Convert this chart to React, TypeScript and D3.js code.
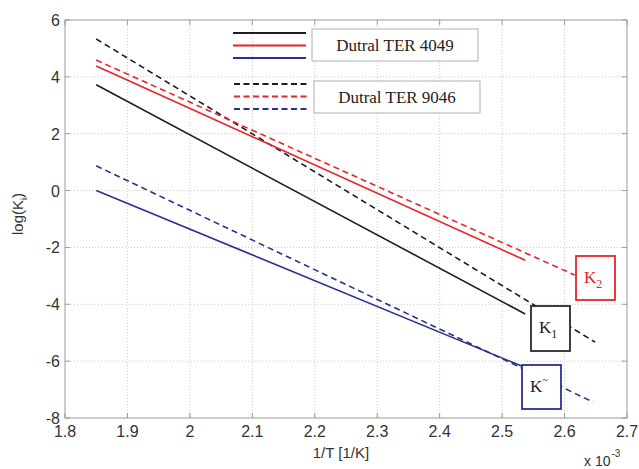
import React, { useRef, useEffect } from 'react';
import * as d3 from 'd3';

// line endpoints [1/T (x1e-3), log(K)]
const k1Ter4049 = [[1.85, 3.72], [2.537, -4.34]];
const k2Ter4049 = [[1.85, 4.38], [2.537, -2.45]];
const kmTer4049 = [[1.85, 0.0], [2.531, -6.17]];
const k1Ter9046 = [[1.85, 5.33], [2.649, -5.33]];
const k2Ter9046 = [[1.85, 4.59], [2.616, -2.97]];
const kmTer9046 = [[1.85, 0.87], [2.646, -7.44]];

const xTicks = [1.8, 1.9, 2, 2.1, 2.2, 2.3, 2.4, 2.5, 2.6, 2.7];
const yTicks = [-8, -6, -4, -2, 0, 2, 4, 6];
const legendLabels = ['Dutral TER 4049', 'Dutral TER 9046'];

const BLACK = '#1e1e1e';
const RED = '#e8232b';
const BLUE = '#2a3090';

const width = 639;
const height = 469;
const margin = { top: 20, right: 12, bottom: 51, left: 65 };

function Chart() {
  const ref = useRef<SVGSVGElement>(null);

  useEffect(() => {
    document.body.style.margin = '0';
    document.body.style.overflow = 'hidden';

    const svg = d3.select(ref.current);
    svg.selectAll('*').remove();

    const x = d3.scaleLinear()
      .domain([1.8, 2.7])
      .range([margin.left, width - margin.right]);
    const y = d3.scaleLinear()
      .domain([-8, 6])
      .range([height - margin.bottom, margin.top]);

    const x0 = x.range()[0], x1 = x.range()[1];
    const y0 = y.range()[0], y1 = y.range()[1];

    // grid
    const grid = svg.append('g');
    grid.selectAll('line.gx')
      .data(xTicks.slice(1, -1))
      .join('line')
        .attr('x1', d => x(d)).attr('x2', d => x(d))
        .attr('y1', y1).attr('y2', y0)
        .attr('stroke', '#c8c8c8')
        .attr('stroke-dasharray', '1,2');
    grid.selectAll('line.gy')
      .data(yTicks.slice(1, -1))
      .join('line')
        .attr('x1', x0).attr('x2', x1)
        .attr('y1', d => y(d)).attr('y2', d => y(d))
        .attr('stroke', '#c8c8c8')
        .attr('stroke-dasharray', '1,2');

    // frame + inward ticks
    svg.append('rect')
      .attr('x', x0).attr('y', y1)
      .attr('width', x1 - x0).attr('height', y0 - y1)
      .attr('fill', 'none').attr('stroke', '#9a9a9a');

    const ticks = svg.append('g').attr('stroke', '#9a9a9a');
    xTicks.forEach(t => {
      ticks.append('line').attr('x1', x(t)).attr('x2', x(t)).attr('y1', y0).attr('y2', y0 - 5);
      ticks.append('line').attr('x1', x(t)).attr('x2', x(t)).attr('y1', y1).attr('y2', y1 + 5);
    });
    yTicks.forEach(t => {
      ticks.append('line').attr('x1', x0).attr('x2', x0 + 5).attr('y1', y(t)).attr('y2', y(t));
      ticks.append('line').attr('x1', x1).attr('x2', x1 - 5).attr('y1', y(t)).attr('y2', y(t));
    });

    const labels = svg.append('g')
      .attr('font-family', 'Liberation Sans, Arial, sans-serif')
      .attr('font-size', 16)
      .attr('fill', '#333');
    labels.selectAll('text.xt')
      .data(xTicks)
      .join('text')
        .attr('x', d => x(d))
        .attr('y', y0 + 19)
        .attr('text-anchor', 'middle')
        .text(d => d3.format('~g')(d));
    labels.selectAll('text.yt')
      .data(yTicks)
      .join('text')
        .attr('x', x0 - 5)
        .attr('y', d => y(d) + 6)
        .attr('text-anchor', 'end')
        .text(d => d);

    labels.append('text')
      .attr('x', 341)
      .attr('y', 458)
      .attr('text-anchor', 'middle')
      .attr('font-size', 15)
      .text('1/T [1/K]');

    const yl = labels.append('text')
      .attr('transform', `translate(23,214) rotate(-90)`)
      .attr('text-anchor', 'middle')
      .attr('font-size', 15);
    yl.append('tspan').text('log(K');
    yl.append('tspan').attr('font-size', 9).attr('dy', 4).text('i');
    yl.append('tspan').attr('dy', -4).text(')');

    const ex = labels.append('text')
      .attr('x', 584).attr('y', 466)
      .attr('font-size', 14);
    ex.append('tspan').text('x 10');
    ex.append('tspan').attr('font-size', 10).attr('dy', -9).attr('dx', 1).text('-3');

    // lines
    const line = d3.line<number[]>().x(d => x(d[0])).y(d => y(d[1]));
    const series = [
      { pts: k1Ter9046, c: BLACK, dash: '6,4' },
      { pts: k2Ter9046, c: RED, dash: '6,4' },
      { pts: kmTer9046, c: BLUE, dash: '6,4' },
      { pts: k1Ter4049, c: BLACK, dash: null },
      { pts: k2Ter4049, c: RED, dash: null },
      { pts: kmTer4049, c: BLUE, dash: null },
    ];
    svg.append('g')
      .selectAll('path')
      .data(series)
      .join('path')
        .attr('d', d => line(d.pts))
        .attr('fill', 'none')
        .attr('stroke', d => d.c)
        .attr('stroke-width', 1.6)
        .attr('stroke-dasharray', d => d.dash);

    // legend
    const leg = svg.append('g');
    [BLACK, RED, BLUE].forEach((c, i) => {
      leg.append('line')
        .attr('x1', 233).attr('x2', 306)
        .attr('y1', 33 + i * 12.5).attr('y2', 33 + i * 12.5)
        .attr('stroke', c).attr('stroke-width', 1.8);
      leg.append('line')
        .attr('x1', 234).attr('x2', 308)
        .attr('y1', 84 + i * 12.5).attr('y2', 84 + i * 12.5)
        .attr('stroke', c).attr('stroke-width', 1.8)
        .attr('stroke-dasharray', '6,3.5');
    });
    legendLabels.forEach((lab, i) => {
      const bx = 312 + i * 2, by = 29 + i * 52;
      leg.append('rect')
        .attr('x', bx).attr('y', by)
        .attr('width', 166).attr('height', 32)
        .attr('fill', '#fff').attr('stroke', '#b0b0b0');
      leg.append('text')
        .attr('x', bx + 83).attr('y', by + 22)
        .attr('text-anchor', 'middle')
        .attr('font-family', 'Liberation Serif, Times New Roman, serif')
        .attr('font-size', 17)
        .attr('fill', '#222')
        .text(lab);
    });

    // K labels in boxes
    const boxes = [
      { bx: 576, by: 256, w: 39, h: 44, c: RED, tc: RED, sub: '2', sup: null },
      { bx: 531, by: 306, w: 39, h: 45, c: '#2a2a2a', tc: '#222', sub: '1', sup: null },
      { bx: 522, by: 365, w: 39, h: 44, c: BLUE, tc: '#222', sub: null, sup: '~' },
    ];
    boxes.forEach(b => {
      svg.append('rect')
        .attr('x', b.bx).attr('y', b.by)
        .attr('width', b.w).attr('height', b.h)
        .attr('fill', '#fff').attr('stroke', b.c).attr('stroke-width', 1.8);
      const t = svg.append('text')
        .attr('x', b.bx + 8).attr('y', b.by + 27)
        .attr('font-family', 'Liberation Serif, Times New Roman, serif')
        .attr('font-size', 17)
        .attr('fill', b.tc);
      t.append('tspan').text('K');
      if (b.sub) t.append('tspan').attr('font-size', 12).attr('dy', 5).text(b.sub);
      if (b.sup) t.append('tspan').attr('font-size', 11).attr('dy', -9).text(b.sup);
    });
  }, []);

  return <svg ref={ref} width={width} height={height} style={{ display: 'block' }}></svg>;
}

export default function App() {
  return <Chart />;
}
